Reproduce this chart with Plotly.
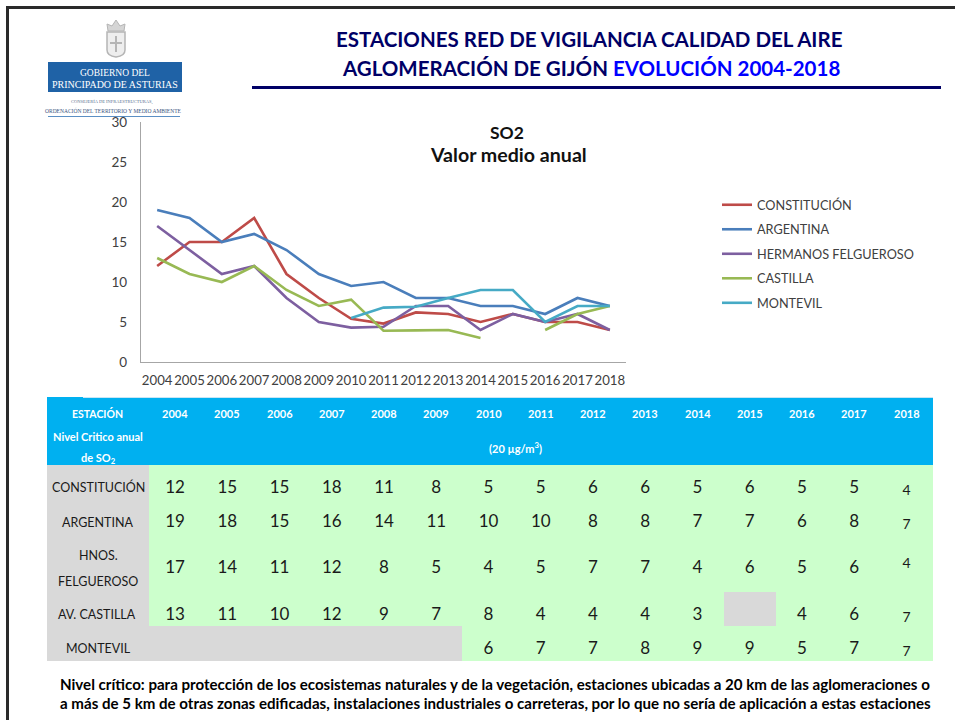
import plotly.graph_objects as go

W, H = 955, 720
FONT = "Lato, 'Open Sans', sans-serif"

years = list(range(2004, 2019))
year_labels = [str(y) for y in years]

# Chart series
constitucion = [12, 15, 15, 18, 11, 8, 5.4, 4.8, 6.2, 6, 5, 6, 5, 5, 4]
argentina = [19, 18, 15, 16, 14, 11, 9.5, 10, 8, 8, 7, 7, 6, 8, 7]
felgueroso = [17, 14, 11, 12, 8, 5, 4.3, 4.4, 7, 7, 4, 6, 5, 6, 4]
castilla = [13, 11, 10, 12, 9, 7, 7.8, 3.9, 3.95, 4, 3, None, 4, 6, 7]
montevil = [None] * 6 + [5.5, 6.8, 6.9, 8, 9, 9, 5, 7, 7]

series_names = ["CONSTITUCIÓN", "ARGENTINA", "HERMANOS FELGUEROSO", "CASTILLA", "MONTEVIL"]
series_values = [constitucion, argentina, felgueroso, castilla, montevil]
series_colors = ["#be4b48", "#4a7ebb", "#7d5fa0", "#98b954", "#46aac5"]

# Table values (as printed)
table_labels = [["CONSTITUCIÓN"], ["ARGENTINA"], ["HNOS.", "FELGUEROSO"], ["AV. CASTILLA"], ["MONTEVIL"]]
table_rows = [
    [12, 15, 15, 18, 11, 8, 5, 5, 6, 6, 5, 6, 5, 5, 4],
    [19, 18, 15, 16, 14, 11, 10, 10, 8, 8, 7, 7, 6, 8, 7],
    [17, 14, 11, 12, 8, 5, 4, 5, 7, 7, 4, 6, 5, 6, 4],
    [13, 11, 10, 12, 9, 7, 8, 4, 4, 4, 3, None, 4, 6, 7],
    [None] * 6 + [6, 7, 7, 8, 9, 9, 5, 7, 7],
]

fig = go.Figure()

# Line chart
for name, vals, col in zip(series_names, series_values, series_colors):
    fig.add_trace(go.Scatter(
        x=years, y=vals, name=name, legendgroup=name, mode="lines",
        line=dict(color=col, width=2.6), connectgaps=False, hoverinfo="x+y+name",
    ))

# Pixel helpers for the table
COL0, STEP = 175.0, 52.25
row_y = [489, 523, 569, 616, 650]
last_y = [491, 525, 564, 618, 652]

for vals, y, ly in zip(table_rows, row_y, last_y):
    xs = [COL0 + i * STEP for i in range(14)]
    fig.add_trace(go.Scatter(
        x=xs, y=[y] * 14, text=[("" if v is None else str(v)) for v in vals[:14]],
        mode="text", textfont=dict(family=FONT, size=17, color="#1a1a1a"),
        xaxis="x2", yaxis="y2", showlegend=False, hoverinfo="skip",
    ))
    fig.add_trace(go.Scatter(
        x=[COL0 + 14 * STEP], y=[ly], text=[str(vals[14])],
        mode="text", textfont=dict(family=FONT, size=14, color="#1a1a1a"),
        xaxis="x2", yaxis="y2", showlegend=False, hoverinfo="skip",
    ))

shapes = []


def rect(x0, y0, x1, y1, fill, line=None, lw=0):
    shapes.append(dict(type="rect", xref="x2", yref="y2", x0=x0, y0=y0, x1=x1, y1=y1,
                       fillcolor=fill, line=dict(color=line or fill, width=lw), layer="below"))


def hline(x0, y0, x1, y1, color, lw):
    shapes.append(dict(type="line", xref="x2", yref="y2", x0=x0, y0=y0, x1=x1, y1=y1,
                       line=dict(color=color, width=lw), layer="below"))


# Page frame
hline(6, 7.5, 955, 7.5, "#2a2a2a", 3)
hline(7.5, 6, 7.5, 720, "#2a2a2a", 3)

# Title rule
hline(252, 87.5, 941, 87.5, "#000066", 3)

# Logo
rect(48, 62, 182, 92, "#1f62a6")
hline(48, 116.5, 180, 116.5, "#5b8fc4", 1)
shapes.append(dict(type="path", xref="x2", yref="y2", layer="below",
                   path="M107,32 L125,32 L125,50 Q125,56 116,57 Q107,56 107,50 Z",
                   fillcolor="#eeeeee", line=dict(color="#b5b5b5", width=1.5)))
shapes.append(dict(type="path", xref="x2", yref="y2", layer="below",
                   path="M108,31 L107,24 L112,26 L116,20 L120,26 L125,24 L124,31 Z",
                   fillcolor="#d5d5d5", line=dict(color="#b5b5b5", width=1)))
hline(116, 36, 116, 52, "#b5b5b5", 2)
hline(110, 43, 122, 43, "#b5b5b5", 2)

# Table backgrounds
rect(47, 397, 933, 465, "#00b0f0")
rect(47, 465, 933, 661, "#ccffcc")
rect(47, 465, 149, 661, "#d9d9d9")
rect(47, 626, 462, 661, "#d9d9d9")
rect(724, 592, 776, 626, "#d9d9d9")
hline(83, 397.5, 933, 397.5, "#c9e6f5", 1)

anns = []


def note(x, y, text, size, color="#000000", bold=False, anchor="center", family=FONT):
    anns.append(dict(xref="x2", yref="y2", x=x, y=y, text=f"<b>{text}</b>" if bold else text,
                     showarrow=False, xanchor=anchor, yanchor="middle",
                     font=dict(family=family, size=size, color=color), align="center"))


# Page title
note(589, 39, "ESTACIONES RED DE VIGILANCIA CALIDAD DEL AIRE", 20.5, "#000066", True)
note(591, 68, "AGLOMERACIÓN DE GIJÓN <span style='color:#0000ff'>EVOLUCIÓN 2004-2018</span>", 20.5, "#000066", True)

# Logo text
SERIF = "'Liberation Serif', serif"
note(115, 73, "GOBIERNO DEL", 9.5, "#ffffff", family=SERIF)
note(115, 84, "PRINCIPADO DE ASTURIAS", 10, "#ffffff", family=SERIF)
note(112, 102, "CONSEJERÍA DE INFRAESTRUCTURAS,", 4.5, "#5a6f8f", family=SERIF)
note(113, 110, "ORDENACIÓN DEL TERRITORIO Y MEDIO AMBIENTE", 5.5, "#3a5580", family=SERIF)

# Chart title
note(507, 132, "SO2", 17.5, "#111111", True)
note(508, 154, "Valor medio anual", 19.6, "#111111", True)

# Table header
note(97, 413, "ESTACIÓN", 10.5, "#ffffff", True)
note(98, 436, "Nivel Critico anual", 11, "#ffffff", True)
note(98, 458, "de SO<sub>2</sub>", 11, "#ffffff", True)
for i, lab in enumerate(year_labels):
    note(COL0 + i * STEP, 413, lab, 11, "#ffffff", True)
note(515, 447, "(20 µg/m<sup>3</sup>)", 11, "#ffffff", True)

# Row labels
note(98, 487, table_labels[0][0], 12.5, "#1a1a1a")
note(98, 522, table_labels[1][0], 12.5, "#1a1a1a")
note(98, 555, table_labels[2][0], 12.5, "#1a1a1a")
note(98, 581, table_labels[2][1], 12.5, "#1a1a1a")
note(97, 614, table_labels[3][0], 12.5, "#1a1a1a")
note(98, 648, table_labels[4][0], 12.5, "#1a1a1a")

# Footnote
note(58, 684, "Nivel crítico: para protección de los ecosistemas naturales y de la vegetación, estaciones ubicadas a 20 km de las aglomeraciones o", 15.1, "#000000", True, "left")
note(58, 703, "a más de 5 km de otras zonas edificadas, instalaciones industriales o carreteras, por lo que no sería de aplicación a estas estaciones", 15.1, "#000000", True, "left")

fig.update_layout(
    width=W, height=H, margin=dict(l=0, r=0, t=0, b=0, autoexpand=False),
    paper_bgcolor="#ffffff", plot_bgcolor="rgba(0,0,0,0)",
    showlegend=True,
    legend=dict(x=717 / W, y=1 - 190 / H, xanchor="left", yanchor="top",
                bgcolor="rgba(0,0,0,0)", tracegroupgap=5, itemwidth=30,
                font=dict(family=FONT, size=12.7, color="#404040"), traceorder="grouped"),
    xaxis=dict(domain=[141 / W, 626 / W], range=[2003.5, 2018.5], tickmode="array", anchor="y",
               tickvals=years, ticktext=year_labels, showgrid=False, zeroline=False, tickangle=0,
               showline=True, linecolor="#a6a6a6", linewidth=1.2, ticks="outside", ticklen=6,
               tickcolor="rgba(0,0,0,0)", automargin=False,
               tickfont=dict(family=FONT, size=13.2, color="#404040")),
    yaxis=dict(domain=[1 - 362 / H, 1 - 122 / H], range=[0, 30], tickvals=[0, 5, 10, 15, 20, 25, 30],
               showgrid=False, zeroline=False, showline=True, linecolor="#a6a6a6", linewidth=1.2, anchor="x",
               ticks="outside", ticklen=10, tickcolor="rgba(0,0,0,0)", automargin=False,
               tickfont=dict(family=FONT, size=13.5, color="#404040")),
    xaxis2=dict(domain=[0, 1], range=[0, W], visible=False, anchor="y2", fixedrange=True, automargin=False),
    yaxis2=dict(domain=[0, 1], range=[H, 0], visible=False, anchor="x2", fixedrange=True, automargin=False),
    shapes=shapes, annotations=anns,
)

fig.write_html("out.html", post_script="document.body.style.margin='0';", config={"displayModeBar": False})
